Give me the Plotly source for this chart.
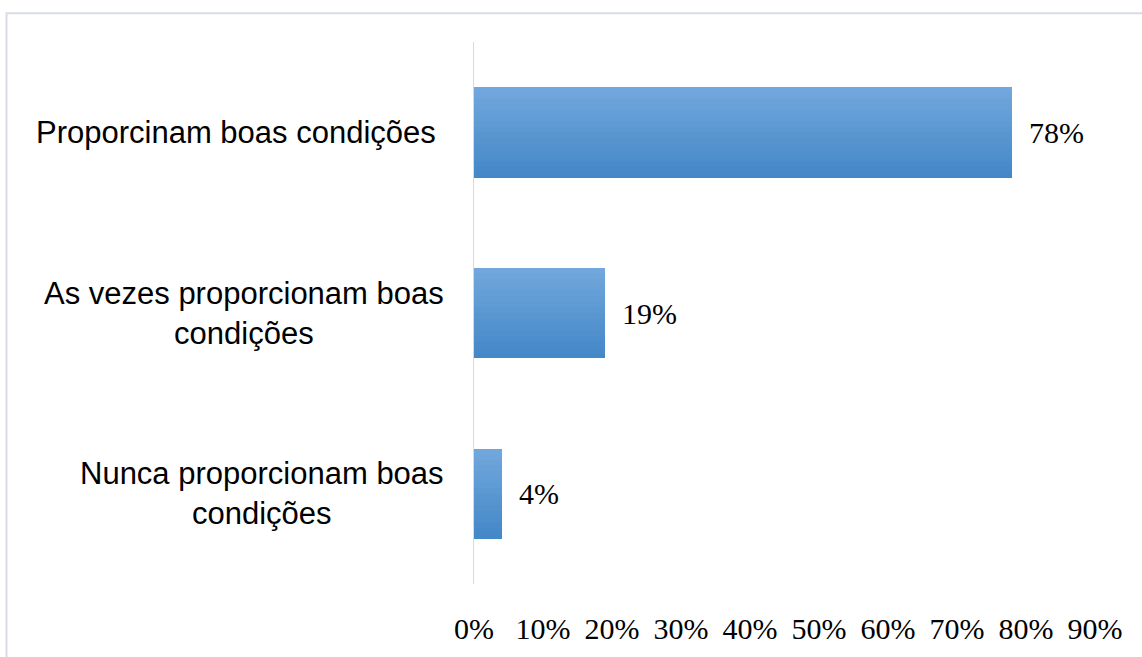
import plotly.graph_objects as go

categories = ["Proporcinam boas condições\u00a0",
              "As vezes proporcionam boas<br>condições",
              "Nunca proporcionam boas<br>condições"]
values = [78, 19, 4]
value_labels = ["78%", "19%", "4%"]
tick_vals = [0, 10, 20, 30, 40, 50, 60, 70, 80, 90]
tick_text = ["0%", "10%", "20%", "30%", "40%", "50%", "60%", "70%", "80%", "90%"]

# gradient colours (top -> bottom of each bar)
top_rgb = (0x71, 0xA7, 0xDC)
bot_rgb = (0x44, 0x88, 0xC8)
N_SLICES = 16
BAR_W = 0.5

W, H = 1142, 657
L, R, T, B = 474, 47, 42, 66
CAT_FS = 31
NUM_FS = 30

ycat = list(range(len(categories)))

fig = go.Figure()
for i in range(N_SLICES):
    f = i / (N_SLICES - 1)
    c = tuple(round(top_rgb[k] + (bot_rgb[k] - top_rgb[k]) * f) for k in range(3))
    w = BAR_W / N_SLICES
    fig.add_trace(go.Bar(
        x=values, y=ycat, orientation="h",
        width=w, offset=-BAR_W / 2 + i * w,
        marker=dict(color="rgb(%d,%d,%d)" % c, line=dict(width=0)),
        hoverinfo="skip", showlegend=False,
    ))

annotations = []
for yc, v, lab in zip(ycat, values, value_labels):
    annotations.append(dict(x=v, y=yc, xref="x", yref="y", text=lab,
                            showarrow=False, xanchor="left", yanchor="middle",
                            xshift=15,
                            font=dict(family="Liberation Serif", size=NUM_FS, color="#000000")))

cat_font = dict(family="Liberation Sans", size=CAT_FS, color="#000000")
for yc, cat in zip(ycat, categories):
    annotations.append(dict(x=0, y=yc, xref="paper", yref="y", text=cat,
                            showarrow=False, xanchor="right", yanchor="middle",
                            align="center", xshift=-28, font=cat_font))

pw = W - L - R
ph = H - T - B
shapes = [dict(type="rect", xref="paper", yref="paper",
               x0=(6.5 - L) / pw, x1=(W + 10 - L) / pw,
               y0=-(H + 10 - (T + ph)) / ph, y1=1 + (T - 13) / ph,
               line=dict(color="#D9DDE3", width=2), fillcolor="rgba(0,0,0,0)")]

fig.update_layout(
    width=W, height=H,
    margin=dict(l=L, r=R, t=T, b=B, pad=0),
    paper_bgcolor="white", plot_bgcolor="white",
    barmode="overlay",
    bargap=0,
    annotations=annotations,
    shapes=shapes,
    xaxis=dict(range=[0, 90], tickvals=tick_vals, ticktext=tick_text,
               showgrid=False, zeroline=False, showline=False, ticks="",
               ticklabelstandoff=24,
               tickfont=dict(family="Liberation Serif", size=NUM_FS, color="#000000")),
    yaxis=dict(range=[len(categories) - 0.5, -0.5], showticklabels=False,
               showgrid=False, zeroline=False, showline=True,
               linecolor="#D9D9D9", linewidth=1, ticks=""),
)

fig.write_html("out.html", config={"displayModeBar": False},
               post_script="document.body.style.margin='0';")
